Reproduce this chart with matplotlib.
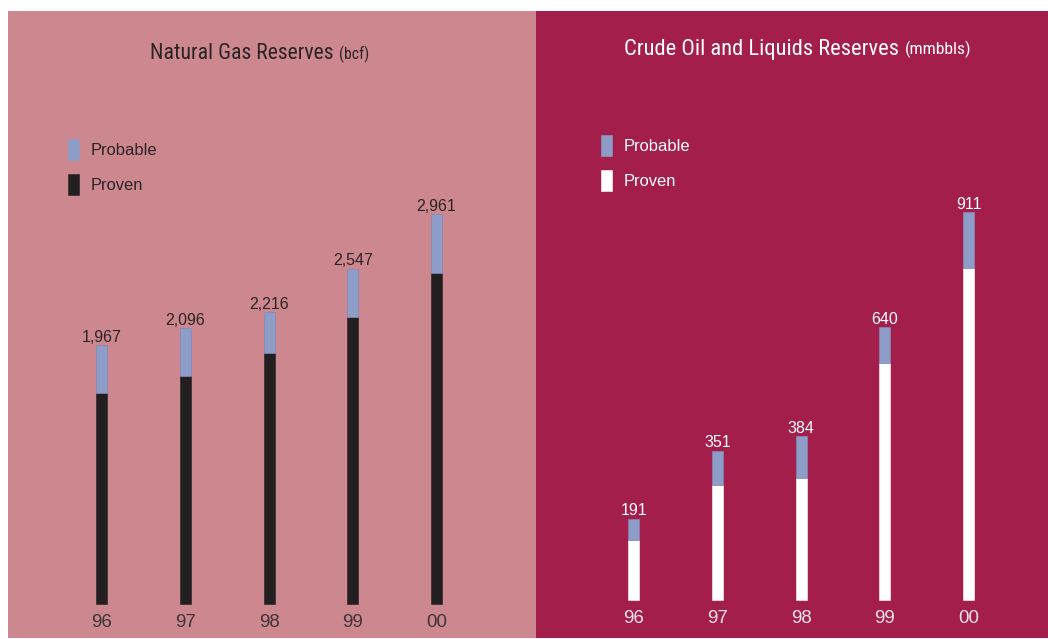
import matplotlib
matplotlib.use('Agg')
import matplotlib.pyplot as plt
from matplotlib.patches import Rectangle

# reserves by year, totals are proven + probable
years = ['96', '97', '98', '99', '00']
gas_total = [1967, 2096, 2216, 2547, 2961]
gas_proven = [1603, 1732, 1905, 2183, 2517]
oil_total = [191, 351, 384, 640, 911]
oil_proven = [141, 270, 287, 557, 780]

W, H = 1048, 639
PROBABLE = '#8e9cc8'
TITLE_FONT = ['Roboto Condensed', 'DejaVu Sans']
plt.rcParams['font.family'] = ['Liberation Sans', 'DejaVu Sans']


def fx(px):
    return px / W


def fy(py):
    return 1 - py / H


def draw_panel(ax, totals, proven, proven_color, bg, text_color, year_color, xlim, ylim):
    ax.set_facecolor(bg)
    ax.set_xlim(*xlim)
    ax.set_ylim(*ylim)
    for s in ax.spines.values():
        s.set_visible(False)
    ax.set_xticks([])
    ax.set_yticks([])
    x = list(range(len(years)))
    probable = [t - p for t, p in zip(totals, proven)]
    ax.bar(x, proven, width=0.131, color=proven_color, edgecolor=proven_color, linewidth=0.4)
    ax.bar(x, probable, width=0.131, bottom=proven, color=PROBABLE,
           edgecolor='#8487b6', linewidth=0.5)
    for i, t in enumerate(totals):
        ax.annotate(f'{t:,}', (i, t), xytext=(0, 2.5), textcoords='offset points',
                    ha='center', va='baseline', fontsize=11.5, color=text_color)
        ax.annotate(years[i], (i, 0), xytext=(0, -16.3), textcoords='offset points',
                    ha='center', va='baseline', fontsize=13.4, color=year_color)


def title(ax, x, y, main, unit, color, size, unit_size):
    t = ax.figure.text(fx(x), fy(y), main, ha='left', va='baseline', fontsize=size,
                       color=color, family=TITLE_FONT)
    ax.annotate(unit, xy=(1, 0), xycoords=t, xytext=(4, 0.9), textcoords='offset points',
                ha='left', va='bottom', fontsize=unit_size, color=color, family=TITLE_FONT,
                annotation_clip=False)


def legend(fig, x, ys, proven_color, color):
    for (label, face), y in zip([('Probable', PROBABLE), ('Proven', proven_color)], ys):
        fig.patches.append(Rectangle((fx(x), fy(y + 5)), fx(11), 21 / H, transform=fig.transFigure,
                                     facecolor=face, edgecolor=face, linewidth=0.4))
        fig.text(fx(x + 23), fy(y), label, ha='left', va='baseline', fontsize=11.9, color=color)


fig = plt.figure(figsize=(10.48, 6.39), dpi=100)
fig.patch.set_facecolor('white')

ax1 = fig.add_axes([fx(8), fy(638), fx(528), 627 / H])
draw_panel(ax1, gas_total, gas_proven, '#231f20', '#cd878f', '#2b2425', '#3e3436',
           (-1.119, 5.189), (-258.3, 4505.7))

ax2 = fig.add_axes([fx(536), fy(638), fx(512), 627 / H])
draw_panel(ax2, oil_total, oil_proven, 'white', '#a31e4b', 'white', '#f4e4ea',
           (-1.168, 4.949), (-89.2, 1383.0))

title(ax1, 150, 59.3, 'Natural Gas Reserves', '(bcf)', '#2b2425', 15.7, 11.3)
title(ax2, 624, 54.5, 'Crude Oil and Liquids Reserves', '(mmbbls)', 'white', 16.2, 12.6)

legend(fig, 68, [155, 190], '#231f20', '#2b2425')
legend(fig, 601, [151, 186], 'white', 'white')

fig.savefig('out.png', dpi=100)
